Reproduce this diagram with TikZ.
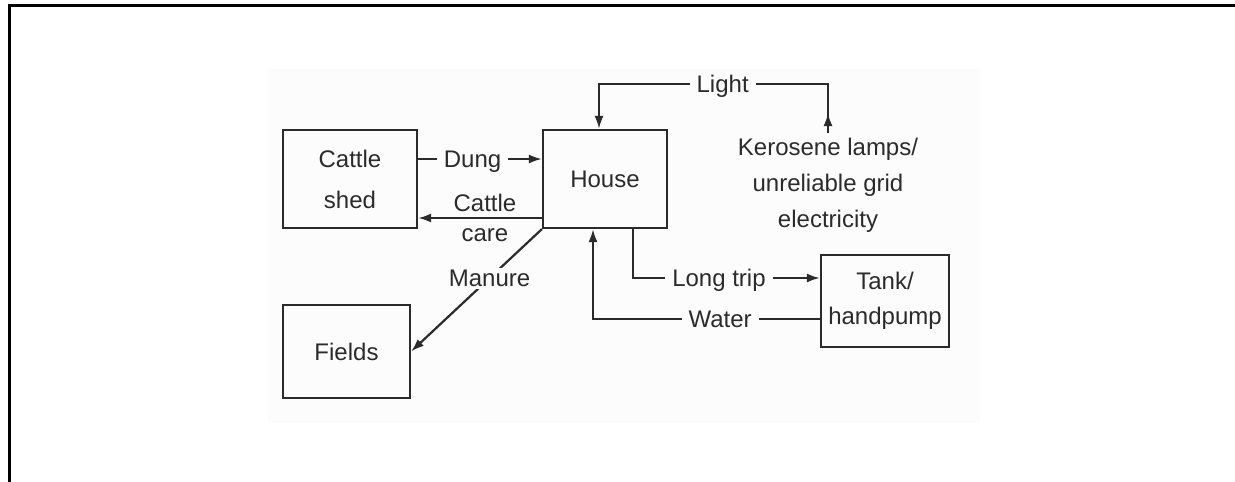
\documentclass[tikz,border=0pt]{standalone}
\usepackage{fontspec}
\setmainfont{Liberation Sans}
\usetikzlibrary{arrows.meta}
\definecolor{ink}{HTML}{2B2B2B}
\definecolor{paper}{HTML}{FCFCFC}
\begin{document}
\begin{tikzpicture}[x=1pt,y=-1pt,
    font=\fontsize{24}{36}\selectfont,
    box/.style={draw=ink,line width=2.2pt,text=ink,align=center,inner sep=0pt},
    flow/.style={draw=ink,line width=2.2pt,-{Latex[length=13pt,width=9pt]}},
    lab/.style={fill=paper,text=ink,inner xsep=7pt,inner ysep=2pt,text height=17pt,text depth=0pt}]
    \useasboundingbox (0,0) rectangle (1235,482);
    \fill[paper] (268,69) rectangle (980,423);
    \draw[line width=3.5pt] (9.5,482) -- (9.5,5.7) -- (1235,5.7);

    \node[box,minimum width=134pt,minimum height=98pt] (cattle) at (350,179) {Cattle\\[5pt]shed};
    \node[box,minimum width=124pt,minimum height=98pt] (house) at (605,179) {House};
    \node[box,minimum width=127pt,minimum height=93pt] (fields) at (346.5,351.5) {Fields};
    \node[box,minimum width=128pt,minimum height=92pt] (tank) at (885,301) {Tank/\\[-1pt]handpump};
    \node[text=ink,align=center,anchor=north,inner sep=5pt] (kero) at (828,133) {Kerosene lamps/\\unreliable grid\\electricity};

    \coordinate (lighttop) at (0,84);
    \coordinate (lightin) at ([xshift=-6pt]house.north);
    \draw[flow] (kero.north) -- (kero.north |- lighttop) -- node[lab,pos=0.46]{Light} (lightin |- lighttop) -- (lightin);
    \draw[flow] (kero.north) -- ++(0,-20);

    \draw[flow] ([yshift=20pt]cattle.east) -- node[lab,pos=0.44]{Dung} ([yshift=20pt]house.west);
    \draw[flow] ([yshift=-39pt]house.west) -- node[text=ink,align=center,font=\fontsize{24}{30}\selectfont,pos=0.46]{Cattle\\care} ([yshift=-39pt]cattle.east);
    \draw[flow] (house.south west) -- node[lab,pos=0.4]{Manure} (fields.east);
    \draw[flow] ([xshift=28pt]house.south) |- node[lab,pos=0.73]{Long trip} ([yshift=23pt]tank.west);
    \draw[flow] ([yshift=-18pt]tank.west) -| node[lab,pos=0.22]{Water} ([xshift=-12pt]house.south);
\end{tikzpicture}
\end{document}
